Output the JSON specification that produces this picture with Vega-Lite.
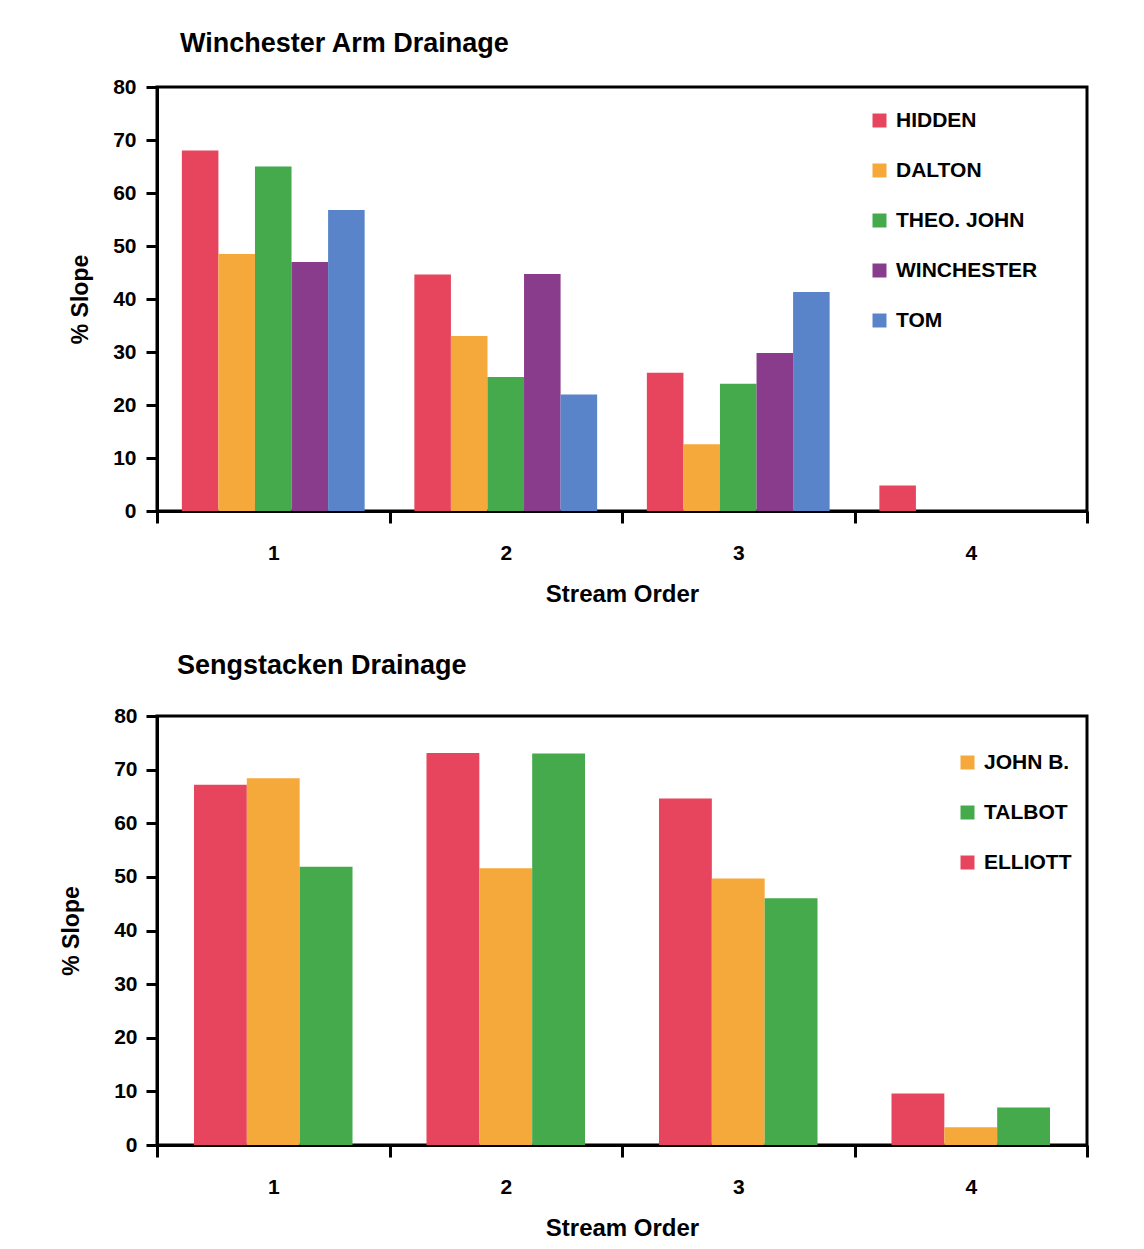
{
  "$schema": "https://vega.github.io/schema/vega-lite/v6.json",
  "background": "white",
  "padding": {"left": 59, "top": 28, "right": 0, "bottom": 0},
  "spacing": 42,
  "columns": 1,
  "align": "none",
  "resolve": {
    "scale": {"color": "independent", "xOffset": "independent", "x": "independent", "y": "independent"},
    "legend": {"color": "independent"}
  },
  "config": {
    "font": "Liberation Sans",
    "view": {"stroke": "black", "strokeWidth": 3},
    "axis": {
      "grid": false,
      "labelFont": "Liberation Sans",
      "labelFontWeight": "bold",
      "labelFontSize": 21,
      "labelColor": "black",
      "titleFont": "Liberation Sans",
      "titleFontWeight": "bold",
      "titleColor": "black",
      "domainColor": "black",
      "domainWidth": 3,
      "tickColor": "black",
      "tickWidth": 3
    },
    "legend": {
      "orient": "none",
      "title": null,
      "labelFont": "Liberation Sans",
      "labelFontSize": 21,
      "labelFontWeight": "bold",
      "labelColor": "black",
      "symbolType": "square",
      "symbolSize": 196,
      "symbolStrokeWidth": 0,
      "symbolOpacity": 1,
      "rowPadding": 28,
      "labelOffset": 6,
      "padding": 0
    },
    "title": {
      "font": "Liberation Sans",
      "fontWeight": "bold",
      "fontSize": 27,
      "color": "black",
      "anchor": "start",
      "frame": "group"
    }
  },
  "concat": [
    {
      "title": {"text": "Winchester Arm Drainage", "dx": 23, "offset": 18},
      "width": 930,
      "height": 424,
      "data": {
        "values": [
          {"order": 1, "stream": "HIDDEN", "slope": 68},
          {"order": 1, "stream": "DALTON", "slope": 48.5},
          {"order": 1, "stream": "THEO. JOHN", "slope": 65},
          {"order": 1, "stream": "WINCHESTER", "slope": 47},
          {"order": 1, "stream": "TOM", "slope": 56.8},
          {"order": 2, "stream": "HIDDEN", "slope": 44.6},
          {"order": 2, "stream": "DALTON", "slope": 33},
          {"order": 2, "stream": "THEO. JOHN", "slope": 25.3},
          {"order": 2, "stream": "WINCHESTER", "slope": 44.7},
          {"order": 2, "stream": "TOM", "slope": 22},
          {"order": 3, "stream": "HIDDEN", "slope": 26.1},
          {"order": 3, "stream": "DALTON", "slope": 12.6},
          {"order": 3, "stream": "THEO. JOHN", "slope": 24},
          {"order": 3, "stream": "WINCHESTER", "slope": 29.8},
          {"order": 3, "stream": "TOM", "slope": 41.3},
          {"order": 4, "stream": "HIDDEN", "slope": 4.8}
        ]
      },
      "mark": {"type": "bar"},
      "encoding": {
        "x": {
          "field": "order",
          "type": "ordinal",
          "scale": {"paddingInner": 0, "paddingOuter": 0},
          "axis": {
            "title": "Stream Order",
            "titleFontSize": 24,
            "titlePadding": 19,
            "labelAngle": 0,
            "tickBand": "extent",
            "tickSize": 12,
            "labelPadding": 19
          }
        },
        "xOffset": {
          "field": "stream",
          "type": "nominal",
          "scale": {
            "domain": ["HIDDEN", "DALTON", "THEO. JOHN", "WINCHESTER", "TOM"],
            "paddingInner": 0,
            "paddingOuter": 0.68
          }
        },
        "y": {
          "field": "slope",
          "type": "quantitative",
          "scale": {"domain": [0, 80], "nice": false},
          "axis": {
            "title": "% Slope",
            "titleFontSize": 23,
            "titlePadding": 20,
            "values": [0, 10, 20, 30, 40, 50, 60, 70, 80],
            "tickSize": 11,
            "labelPadding": 10
          }
        },
        "color": {
          "field": "stream",
          "type": "nominal",
          "scale": {
            "domain": ["HIDDEN", "DALTON", "THEO. JOHN", "WINCHESTER", "TOM"],
            "range": ["#e6455d", "#f6a93b", "#45aa4b", "#8a3c8c", "#5a84c9"]
          },
          "legend": {"legendX": 712, "legendY": 23}
        }
      }
    },
    {
      "title": {"text": "Sengstacken Drainage", "dx": 20, "offset": 25},
      "width": 930,
      "height": 429,
      "data": {
        "values": [
          {"order": 1, "stream": "ELLIOTT", "slope": 67.2},
          {"order": 1, "stream": "JOHN B.", "slope": 68.4},
          {"order": 1, "stream": "TALBOT", "slope": 51.9},
          {"order": 2, "stream": "ELLIOTT", "slope": 73.1},
          {"order": 2, "stream": "JOHN B.", "slope": 51.6},
          {"order": 2, "stream": "TALBOT", "slope": 73},
          {"order": 3, "stream": "ELLIOTT", "slope": 64.6},
          {"order": 3, "stream": "JOHN B.", "slope": 49.7},
          {"order": 3, "stream": "TALBOT", "slope": 46},
          {"order": 4, "stream": "ELLIOTT", "slope": 9.6},
          {"order": 4, "stream": "JOHN B.", "slope": 3.3},
          {"order": 4, "stream": "TALBOT", "slope": 7}
        ]
      },
      "mark": {"type": "bar"},
      "encoding": {
        "x": {
          "field": "order",
          "type": "ordinal",
          "scale": {"paddingInner": 0, "paddingOuter": 0},
          "axis": {
            "title": "Stream Order",
            "titleFontSize": 24,
            "titlePadding": 19,
            "labelAngle": 0,
            "tickBand": "extent",
            "tickSize": 12,
            "labelPadding": 19
          }
        },
        "xOffset": {
          "field": "stream",
          "type": "nominal",
          "scale": {
            "domain": ["ELLIOTT", "JOHN B.", "TALBOT"],
            "paddingInner": 0,
            "paddingOuter": 0.7
          }
        },
        "y": {
          "field": "slope",
          "type": "quantitative",
          "scale": {"domain": [0, 80], "nice": false},
          "axis": {
            "title": "% Slope",
            "titleFontSize": 23,
            "titlePadding": 30,
            "values": [0, 10, 20, 30, 40, 50, 60, 70, 80],
            "tickSize": 11,
            "labelPadding": 9
          }
        },
        "color": {
          "field": "stream",
          "type": "nominal",
          "scale": {
            "domain": ["JOHN B.", "TALBOT", "ELLIOTT"],
            "range": ["#f6a93b", "#45aa4b", "#e6455d"]
          },
          "legend": {"legendX": 800, "legendY": 36}
        }
      }
    }
  ]
}
